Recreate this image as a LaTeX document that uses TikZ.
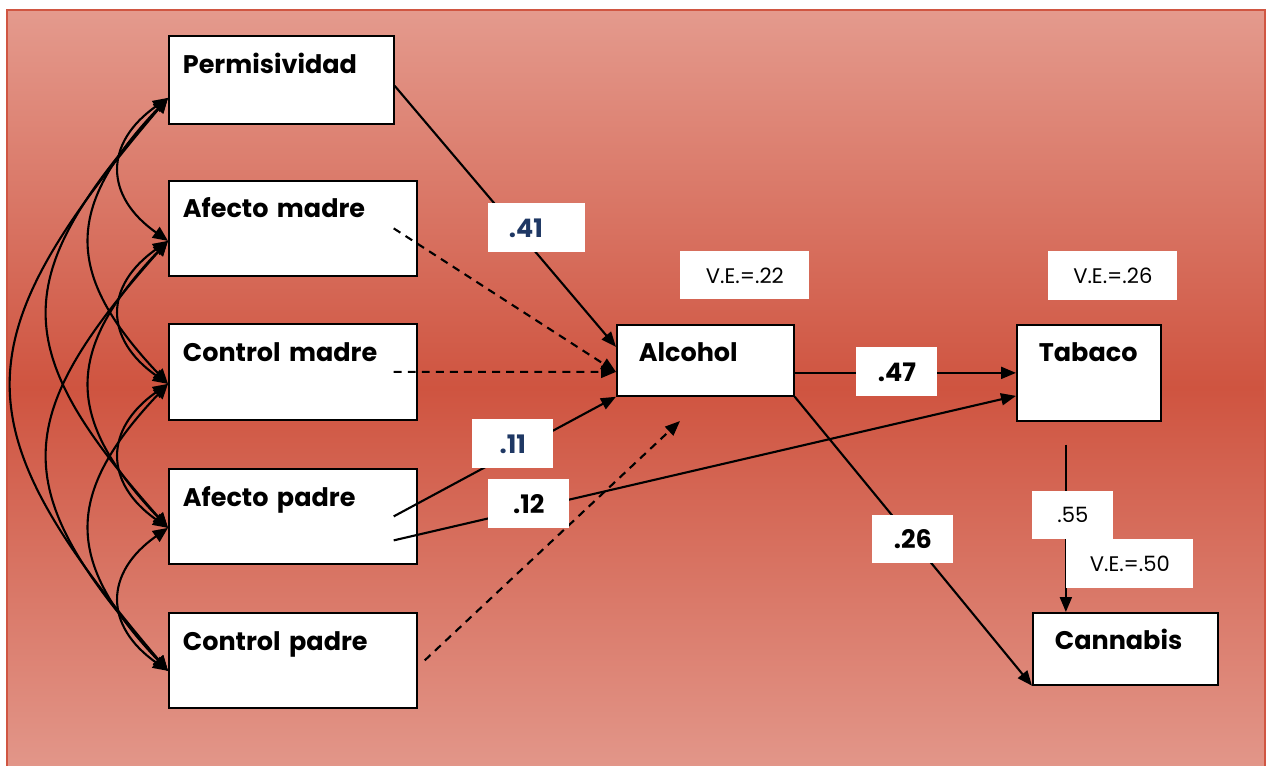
\documentclass[tikz,border=0pt]{standalone}
\usepackage{fontspec}
\setmainfont{Poppins}
\usetikzlibrary{arrows.meta}
\definecolor{bgtop}{RGB}{228,154,141}
\definecolor{bgmid}{RGB}{207,84,64}
\definecolor{bgbot}{RGB}{226,150,137}
\definecolor{framecol}{RGB}{208,86,66}
\definecolor{navy}{RGB}{31,56,100}
\newcommand{\corr}[4]{\draw[conn,{Triangle[length=0.3cm,width=0.26cm]}-{Triangle[length=0.3cm,width=0.26cm]}] (#1) .. controls +(-#3,#4) and +(-#3,-#4) .. (#2);}
\begin{document}
\begin{tikzpicture}[x=0.02cm,y=-0.02cm,
  box/.style={draw=black, fill=white, line width=1pt, anchor=north west, inner ysep=0pt, align=left, font=\fontsize{14.5}{17}\selectfont\bfseries},
  lab/.style={fill=white, inner sep=0pt, anchor=north west},
  blab/.style={lab, font=\fontsize{14.5}{17}\selectfont\bfseries},
  rlab/.style={lab, font=\fontsize{12}{14}\selectfont},
  conn/.style={draw=black, line width=1.2pt},
  arr/.style={-{Triangle[length=0.3cm,width=0.24cm]}},
  dsh/.style={dash pattern=on 4.5pt off 3.5pt}
]
\useasboundingbox (0,0) rectangle (1266,765);
\fill[white] (0,0) rectangle (1266,765);
\shade[top color=bgtop, bottom color=bgbot, middle color=bgmid] (7,10) rectangle (1265,766);
\draw[framecol, line width=1.2pt] (7,766) -- (7,10) -- (1265,10) -- (1265,766);

% boxes
\node[box, inner xsep=0.28cm, text width=3.94cm, text height=0.76cm, text depth=1.00cm] (perm) at (168,35) {Permisividad};
\node[box, inner xsep=0.28cm, text width=4.40cm, text height=0.74cm, text depth=1.16cm] (amad) at (168,180) {Afecto madre};
\node[box, inner xsep=0.28cm, text width=4.40cm, text height=0.76cm, text depth=1.16cm] (cmad) at (168,323) {Control madre};
\node[box, inner xsep=0.28cm, text width=4.40cm, text height=0.76cm, text depth=1.14cm] (apad) at (168,468) {Afecto padre};
\node[box, inner xsep=0.28cm, text width=4.40cm, text height=0.76cm, text depth=1.14cm] (cpad) at (168,612) {Control padre};
\node[box, inner xsep=0.44cm, text width=2.66cm, text height=0.74cm, text depth=0.68cm] (alc) at (616,324) {Alcohol};
\node[box, inner xsep=0.44cm, text width=2.00cm, text height=0.74cm, text depth=1.18cm] (tab) at (1016,324) {Tabaco};
\node[box, inner xsep=0.44cm, text width=2.82cm, text height=0.74cm, text depth=0.70cm] (can) at (1032,612) {Cannabis};

% correlation curves
\coordinate (pL) at ([yshift=-0.36cm]perm.west);
\coordinate (amL) at ([yshift=-0.25cm]amad.west);
\coordinate (cmL) at ([yshift=-0.24cm]cmad.west);
\coordinate (apL) at ([yshift=-0.23cm]apad.west);
\coordinate (cpL) at ([yshift=-0.21cm]cpad.west);
\corr{pL}{amL}{64}{45}
\corr{amL}{cmL}{64}{45}
\corr{cmL}{apL}{64}{45}
\corr{apL}{cpL}{64}{45}
\corr{pL}{cmL}{104}{110}
\corr{amL}{apL}{104}{110}
\corr{cmL}{cpL}{104}{110}
\corr{pL}{apL}{160}{180}
\corr{amL}{cpL}{160}{180}
\corr{pL}{cpL}{208}{245}

% paths
\draw[conn,arr] ([yshift=-0.12cm]perm.east) -- ([yshift=0.27cm]alc.west);
\draw[conn,arr,dsh] ([xshift=-0.48cm]amad.east) -- ([yshift=-0.23cm]alc.west);
\draw[conn,arr,dsh] ([xshift=-0.48cm]cmad.east) -- ([yshift=-0.23cm]alc.west);
\draw[conn,arr] ([xshift=-0.48cm]apad.east) -- (alc.south west);
\draw[conn,arr] ([xshift=-0.48cm,yshift=-0.48cm]apad.east) -- ([yshift=-0.46cm]tab.west);
\coordinate (cfree) at (680,421);
\draw[conn,arr,dsh] ([xshift=0.14cm]cpad.east) -- (cfree);
\draw[conn,arr] (alc.east |- tab.west) -- (tab.west);
\draw[conn,arr] (alc.south east) -- (can.south west);
\coordinate (tstart) at ([xshift=-0.46cm,yshift=-0.46cm]tab.south);
\draw[conn,arr] (tstart) -- (tstart |- can.north);

% labels
\node[blab, text=navy, minimum width=1.94cm, minimum height=0.98cm] (l41) at (488,203) {.41\hspace*{0.44cm}};
\node[rlab, minimum width=2.58cm, minimum height=0.96cm] (ve22) at (680,251) {V.E.=.22};
\node[blab, text=navy, minimum width=1.62cm, minimum height=0.98cm] (l11) at (472,419) {.11};
\node[blab, minimum width=1.62cm, minimum height=0.98cm] (l12) at (488,479) {.12};
\node[blab, minimum width=1.62cm, minimum height=0.98cm] (l47) at (856,347) {.47};
\node[rlab, minimum width=2.58cm, minimum height=0.98cm] (ve26) at (1048,251) {V.E.=.26};
\node[blab, minimum width=1.62cm, minimum height=0.96cm] (l26) at (872,515) {.26};
\node[rlab, minimum width=1.62cm, minimum height=0.96cm] (l55) at (1032,491) {.55};
\node[rlab, minimum width=2.54cm, minimum height=0.98cm] (ve50) at (1066,539) {V.E.=.50};
\end{tikzpicture}
\end{document}
